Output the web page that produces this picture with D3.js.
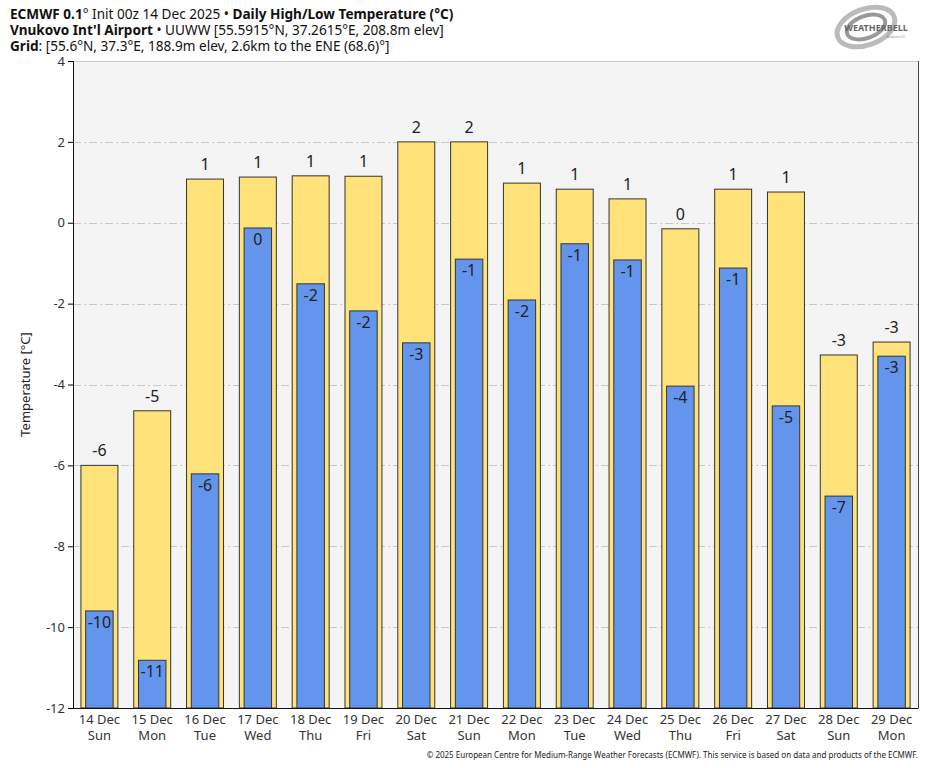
<!DOCTYPE html>
<html>
<head>
<meta charset="utf-8">
<script src="https://cdn.jsdelivr.net/npm/d3@7"></script>
<style>
  body { margin: 0; background: #fff; }
  text { font-family: "Noto Sans", "Open Sans", sans-serif; }
</style>
</head>
<body>
<div id="chart"></div>
<script>
const width = 935;
const height = 768;

// Data
const days = ["14 Dec", "15 Dec", "16 Dec", "17 Dec", "18 Dec", "19 Dec", "20 Dec", "21 Dec",
              "22 Dec", "23 Dec", "24 Dec", "25 Dec", "26 Dec", "27 Dec", "28 Dec", "29 Dec"];
const weekdays = ["Sun", "Mon", "Tue", "Wed", "Thu", "Fri", "Sat", "Sun",
                  "Mon", "Tue", "Wed", "Thu", "Fri", "Sat", "Sun", "Mon"];
const highs = [-6.0, -4.65, 1.08, 1.13, 1.16, 1.15, 2.0, 2.0,
               0.98, 0.83, 0.59, -0.15, 0.83, 0.76, -3.27, -2.95];
const lows = [-9.6, -10.82, -6.21, -0.13, -1.51, -2.18, -2.97, -0.9,
              -1.91, -0.52, -0.92, -4.04, -1.12, -4.53, -6.76, -3.3];
const yTicks = [4, 2, 0, -2, -4, -6, -8, -10, -12];

const margin = { top: 61, right: 17, bottom: 60, left: 73 };
const plotW = width - margin.left - margin.right;
const plotH = height - margin.top - margin.bottom;

const svg = d3.select("#chart")
    .append("svg")
    .attr("width", width)
    .attr("height", height);

const x = d3.scaleBand()
    .domain(d3.range(days.length))
    .range([margin.left, margin.left + plotW]);

const y = d3.scaleLinear()
    .domain([-12, 4])
    .range([margin.top + plotH, margin.top]);

const bottomY = y(-12);

// plot background
svg.append("rect")
    .attr("x", margin.left)
    .attr("y", margin.top)
    .attr("width", plotW)
    .attr("height", plotH)
    .attr("fill", "#f4f4f4");

// top and right borders
svg.append("line")
    .attr("x1", margin.left).attr("x2", margin.left + plotW)
    .attr("y1", margin.top + 0.5).attr("y2", margin.top + 0.5)
    .attr("stroke", "#cccccc");
svg.append("line")
    .attr("x1", margin.left + plotW + 0.5).attr("x2", margin.left + plotW + 0.5)
    .attr("y1", margin.top).attr("y2", bottomY)
    .attr("stroke", "#444");

// gridlines
svg.append("g")
    .selectAll("line")
    .data(yTicks.filter(t => t > -12 && t < 4))
    .join("line")
    .attr("x1", margin.left)
    .attr("x2", margin.left + plotW)
    .attr("y1", d => Math.round(y(d)) + 0.5)
    .attr("y2", d => Math.round(y(d)) + 0.5)
    .attr("stroke", "#c8c8c8")
    .attr("stroke-dasharray", "8,3,2,3");

// round half away from zero, no "-0"
const fmt = v => { const r = Math.sign(v) * Math.round(Math.abs(v)); return String(r === 0 ? 0 : r); };

// high bars (yellow)
const hiW = x.bandwidth() * 0.7;
svg.append("g")
    .selectAll("rect")
    .data(highs)
    .join("rect")
    .attr("x", (d, i) => x(i) + (x.bandwidth() - hiW) / 2)
    .attr("y", d => y(d))
    .attr("width", hiW)
    .attr("height", d => bottomY - y(d))
    .attr("fill", "#ffe37a")
    .attr("stroke", "#333")
    .attr("stroke-width", 1);

// low bars (blue)
const loW = x.bandwidth() * 0.52;
svg.append("g")
    .selectAll("rect")
    .data(lows)
    .join("rect")
    .attr("x", (d, i) => x(i) + (x.bandwidth() - loW) / 2)
    .attr("y", d => y(d))
    .attr("width", loW)
    .attr("height", d => bottomY - y(d))
    .attr("fill", "#6495ed")
    .attr("stroke", "#333")
    .attr("stroke-width", 1);

// high labels
svg.append("g")
    .selectAll("text")
    .data(highs)
    .join("text")
    .attr("x", (d, i) => x(i) + x.bandwidth() / 2)
    .attr("y", d => y(d) - 9)
    .attr("text-anchor", "middle")
    .attr("font-size", 16)
    .attr("fill", "#222")
    .text(fmt);

// low labels
svg.append("g")
    .selectAll("text")
    .data(lows)
    .join("text")
    .attr("x", (d, i) => x(i) + x.bandwidth() / 2)
    .attr("y", d => y(d) + 17)
    .attr("text-anchor", "middle")
    .attr("font-size", 16)
    .attr("fill", "#222")
    .text(fmt);

// y axis
const yAxis = svg.append("g")
    .attr("transform", `translate(${margin.left},0)`)
    .call(d3.axisLeft(y).tickValues(yTicks).tickSize(5).tickFormat(d => String(d)));
yAxis.select(".domain").attr("stroke", "#111");
yAxis.selectAll("text")
    .attr("font-size", 13)
    .attr("fill", "#333")
    .attr("font-family", "Noto Sans, Open Sans, sans-serif");

// x axis
const xAxis = svg.append("g")
    .attr("transform", `translate(0,${bottomY})`)
    .call(d3.axisBottom(x).tickSize(0).tickFormat(""));
xAxis.select(".domain").attr("stroke", "#111");

const xl = svg.append("g");
xl.selectAll("text.d")
    .data(days)
    .join("text")
    .attr("class", "d")
    .attr("x", (d, i) => x(i) + x.bandwidth() / 2)
    .attr("y", bottomY + 16)
    .attr("text-anchor", "middle")
    .attr("font-size", 13)
    .attr("fill", "#333")
    .text(d => d);
xl.selectAll("text.w")
    .data(weekdays)
    .join("text")
    .attr("class", "w")
    .attr("x", (d, i) => x(i) + x.bandwidth() / 2)
    .attr("y", bottomY + 32)
    .attr("text-anchor", "middle")
    .attr("font-size", 13)
    .attr("fill", "#333")
    .text(d => d);

// y axis title
svg.append("text")
    .attr("transform", `translate(30,${(margin.top + bottomY) / 2}) rotate(-90)`)
    .attr("text-anchor", "middle")
    .attr("font-size", 13)
    .attr("fill", "#222")
    .text("Temperature [°C]");

// titles
const t1 = svg.append("text").attr("x", 10).attr("y", 19).attr("font-size", 13.6).attr("fill", "#111");
t1.append("tspan").attr("font-weight", "bold").text("ECMWF 0.1");
t1.append("tspan").text("° Init 00z 14 Dec 2025 • ");
t1.append("tspan").attr("font-weight", "bold").text("Daily High/Low Temperature (°C)");

const t2 = svg.append("text").attr("x", 10).attr("y", 35).attr("font-size", 13.6).attr("fill", "#111");
t2.append("tspan").attr("font-weight", "bold").text("Vnukovo Int'l Airport");
t2.append("tspan").text(" • UUWW [55.5915°N, 37.2615°E, 208.8m elev]");

const t3 = svg.append("text").attr("x", 10).attr("y", 51).attr("font-size", 13.6).attr("fill", "#111");
t3.append("tspan").attr("font-weight", "bold").text("Grid");
t3.append("tspan").text(": [55.6°N, 37.3°E, 188.9m elev, 2.6km to the ENE (68.6)°]");

// footer
svg.append("text")
    .attr("x", margin.left + plotW)
    .attr("y", 758)
    .attr("text-anchor", "end")
    .attr("font-size", 8)
    .attr("fill", "#222")
    .text("© 2025 European Centre for Medium-Range Weather Forecasts (ECMWF). This service is based on data and products of the ECMWF.");

// WeatherBELL logo (rough)
const logo = svg.append("g").attr("transform", "translate(866,27)");
logo.append("ellipse").attr("rx", 30).attr("ry", 18).attr("fill", "none")
    .attr("stroke", "#bbb").attr("stroke-width", 5).attr("transform", "rotate(-20)");
logo.append("ellipse").attr("rx", 20).attr("ry", 11).attr("fill", "none")
    .attr("stroke", "#999").attr("stroke-width", 4).attr("transform", "rotate(-20)");
logo.append("text").attr("x", 10).attr("y", 4).attr("text-anchor", "middle")
    .attr("font-size", 9).attr("font-weight", "bold").attr("fill", "#666")
    .attr("font-family", "DejaVu Serif, serif")
    .text("WEATHERBELL");
logo.append("text").attr("x", 30).attr("y", 11).attr("text-anchor", "middle")
    .attr("font-size", 3).attr("fill", "#888")
    .text("Analytics LLC");
</script>
</body>
</html>
